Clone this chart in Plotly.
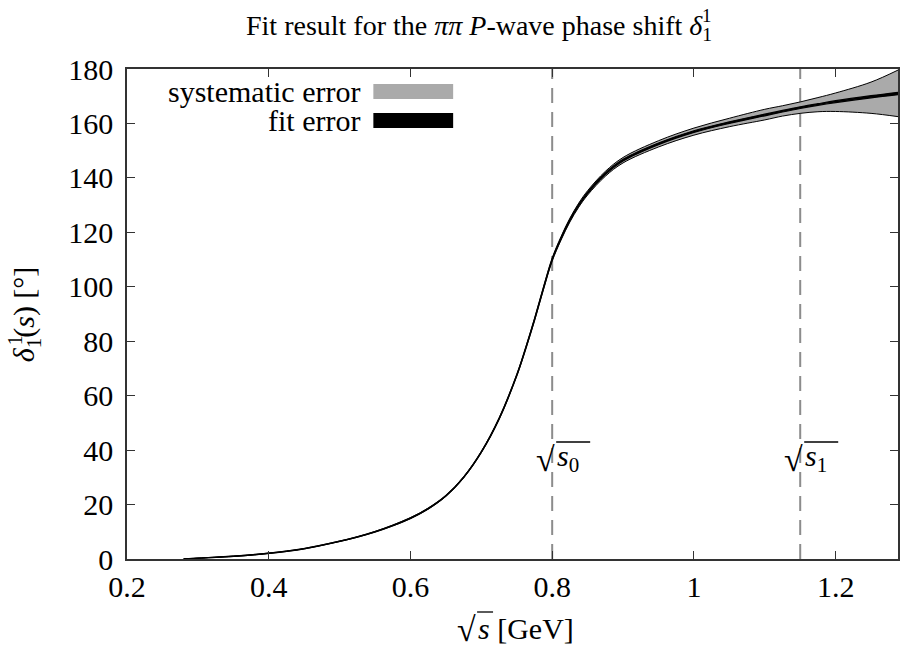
import plotly.graph_objects as go

# ---- data ----
sqrt_s = [0.28, 0.30, 0.35, 0.40, 0.45, 0.50, 0.525, 0.55, 0.575, 0.60, 0.625, 0.65, 0.675, 0.70, 0.725,
          0.75, 0.7625, 0.775, 0.7875, 0.80, 0.8125, 0.825, 0.8375, 0.85, 0.875, 0.90, 0.95,
          1.00, 1.05, 1.10, 1.125, 1.15, 1.175, 1.20, 1.25, 1.288]
delta = [0.0, 0.3, 1.0, 2.1, 3.8, 6.5, 8.1, 10.0, 12.3, 15.0, 18.5, 23.2, 30.0, 39.3, 51.5,
         67.5, 77.3, 87.9, 99.3, 110.0, 117.8, 124.5, 130.0, 134.5, 141.5, 146.5, 152.5,
         157.0, 160.3, 163.1, 164.5, 165.8, 166.95, 168.0, 169.8, 171.0]
sys_plus = [0.05, 0.05, 0.1, 0.1, 0.1, 0.1, 0.12, 0.15, 0.18, 0.2, 0.2, 0.2, 0.25, 0.3, 0.35,
            0.4, 0.45, 0.5, 0.55, 0.6, 0.65, 0.7, 0.75, 0.8, 0.9, 1.0, 1.15,
            1.3, 1.6, 2.1, 2.0, 2.1, 2.55, 3.2, 5.4, 8.6]
sys_minus = [0.05, 0.05, 0.1, 0.1, 0.1, 0.1, 0.12, 0.15, 0.18, 0.2, 0.2, 0.2, 0.25, 0.3, 0.35,
             0.4, 0.45, 0.5, 0.55, 0.6, 0.65, 0.7, 0.75, 0.8, 0.9, 1.0, 1.15,
             1.3, 1.5, 1.8, 1.8, 2.1, 2.65, 3.6, 6.1, 8.5]
fit_err = [0.05, 0.05, 0.05, 0.05, 0.05, 0.05, 0.08, 0.1, 0.1, 0.1, 0.1, 0.1, 0.1, 0.1, 0.15,
           0.15, 0.15, 0.2, 0.2, 0.2, 0.25, 0.25, 0.25, 0.3, 0.3, 0.3, 0.3,
           0.3, 0.3, 0.3, 0.3, 0.3, 0.3, 0.35, 0.4, 0.45]
matching_points = [0.80, 1.15]
matching_labels = ["<i>s</i><sub>0</sub>", "<i>s</i><sub>1</sub>"]
x_ticks = [0.2, 0.4, 0.6, 0.8, 1.0, 1.2]
x_ticklabels = ["0.2", "0.4", "0.6", "0.8", "1", "1.2"]
y_ticks = list(range(0, 181, 20))

FONT = "Liberation Serif"
FS = 30
W, H = 901, 646
L, R, T, B = 127, 1, 69, 87
pw, ph = W - L - R, H - T - B


def px(xp):
    return (xp - L) / pw


def py(yp):
    return (H - B - yp) / ph


sys_up = [d + p for d, p in zip(delta, sys_plus)]
sys_lo = [d - m for d, m in zip(delta, sys_minus)]
fit_up = [d + e for d, e in zip(delta, fit_err)]
fit_lo = [d - e for d, e in zip(delta, fit_err)]

fig = go.Figure()
# systematic band
fig.add_trace(go.Scatter(x=sqrt_s, y=sys_lo, mode="lines", line=dict(color="black", width=1, shape="spline"),
                         showlegend=False, hoverinfo="skip"))
fig.add_trace(go.Scatter(x=sqrt_s, y=sys_up, mode="lines", fill="tonexty", fillcolor="#aaaaaa",
                         line=dict(color="black", width=1, shape="spline"), showlegend=False, hoverinfo="skip"))
# fit band
fig.add_trace(go.Scatter(x=sqrt_s, y=fit_lo, mode="lines", line=dict(color="black", width=1.2, shape="spline"),
                         showlegend=False, hoverinfo="skip"))
fig.add_trace(go.Scatter(x=sqrt_s, y=fit_up, mode="lines", fill="tonexty", fillcolor="black",
                         line=dict(color="black", width=1.2, shape="spline"), showlegend=False, hoverinfo="skip"))


def sqrt_label(x, xref, shift, y_px, body):
    """radical sign ending at anchor (+shift px), body text starting right after it"""
    fig.add_annotation(x=x, y=py(y_px + 1), xref=xref, yref="paper", text="√", showarrow=False,
                       xanchor="right", yanchor="middle", xshift=shift + 1,
                       font=dict(family=FONT, size=34, color="black"))
    fig.add_annotation(x=x, y=py(y_px), xref=xref, yref="paper", text=body, showarrow=False,
                       xanchor="left", yanchor="middle", xshift=shift - 1,
                       font=dict(family=FONT, size=FS, color="black"))


# matching point lines and labels
for xm, lab in zip(matching_points, matching_labels):
    fig.add_shape(type="line", x0=xm, x1=xm, y0=0, y1=1, xref="x", yref="paper",
                  line=dict(color="#8c8c8c", width=2, dash="15px,9px"), layer="below")
    sqrt_label(xm, "x", 4, 458, lab)
    fig.add_shape(type="line", x0=4, x1=38, y0=py(442), y1=py(442), xref="x", yref="paper",
                  xsizemode="pixel", xanchor=xm, line=dict(color="black", width=1.3))

# legend (layout elements)
legend_items = [("systematic error", "#aaaaaa", 91.5), ("fit error", "black", 120.5)]
for txt, col, yc in legend_items:
    fig.add_annotation(x=px(363), y=py(yc), xref="paper", yref="paper", text=txt, showarrow=False,
                       xanchor="right", yanchor="middle", font=dict(family=FONT, size=FS, color="black"))
    fig.add_shape(type="rect", x0=px(374), x1=px(454), y0=py(yc - 7.5), y1=py(yc + 7.5),
                  xref="paper", yref="paper", fillcolor=col, line=dict(width=0))

# title (superscript stacked over subscript)
fig.add_annotation(x=px(716), y=py(27), xref="paper", yref="paper",
                   text="Fit result for the <i>ππ P</i>-wave phase shift <i>δ</i><sub>1</sub>",
                   showarrow=False, xanchor="right", yanchor="middle",
                   font=dict(family=FONT, size=28, color="black"))
fig.add_annotation(x=px(716), y=py(15), xref="paper", yref="paper", text="1",
                   showarrow=False, xanchor="right", yanchor="middle",
                   font=dict(family=FONT, size=19, color="black"))
# x axis label
sqrt_label(px(478), "paper", 0, 628, "<i>s</i> [GeV]")
fig.add_shape(type="line", x0=px(478), x1=px(494), y0=py(612), y1=py(612), xref="paper", yref="paper",
              line=dict(color="black", width=1.3))
# y axis label
fig.add_annotation(x=px(26), y=py(314), xref="paper", yref="paper",
                   text="<i>δ</i><sub>1</sub>(<i>s</i>) [°]", showarrow=False, textangle=-90,
                   xanchor="center", yanchor="middle", font=dict(family=FONT, size=FS, color="black"))
fig.add_annotation(x=px(15), y=py(340), xref="paper", yref="paper",
                   text="1", showarrow=False, textangle=-90,
                   xanchor="center", yanchor="middle", font=dict(family=FONT, size=20, color="black"))

axis_common = dict(showgrid=False, zeroline=False, showline=True, linecolor="#333333", linewidth=1.5,
                   mirror="ticks", ticks="inside", ticklen=8, tickwidth=1, tickcolor="#333333",
                   tickfont=dict(family=FONT, size=FS, color="black"))
fig.update_xaxes(range=[0.2, 1.288], tickvals=x_ticks, ticktext=x_ticklabels, **axis_common)
fig.update_yaxes(range=[0, 180], tickvals=y_ticks, ticklabelstandoff=6, **axis_common)

fig.update_layout(width=W, height=H, margin=dict(l=L, r=R, t=T, b=B),
                  paper_bgcolor="white", plot_bgcolor="white", showlegend=False)

fig.write_html("out.html", config={"displayModeBar": False},
               post_script="document.body.style.margin='0';document.body.style.overflow='hidden';")
